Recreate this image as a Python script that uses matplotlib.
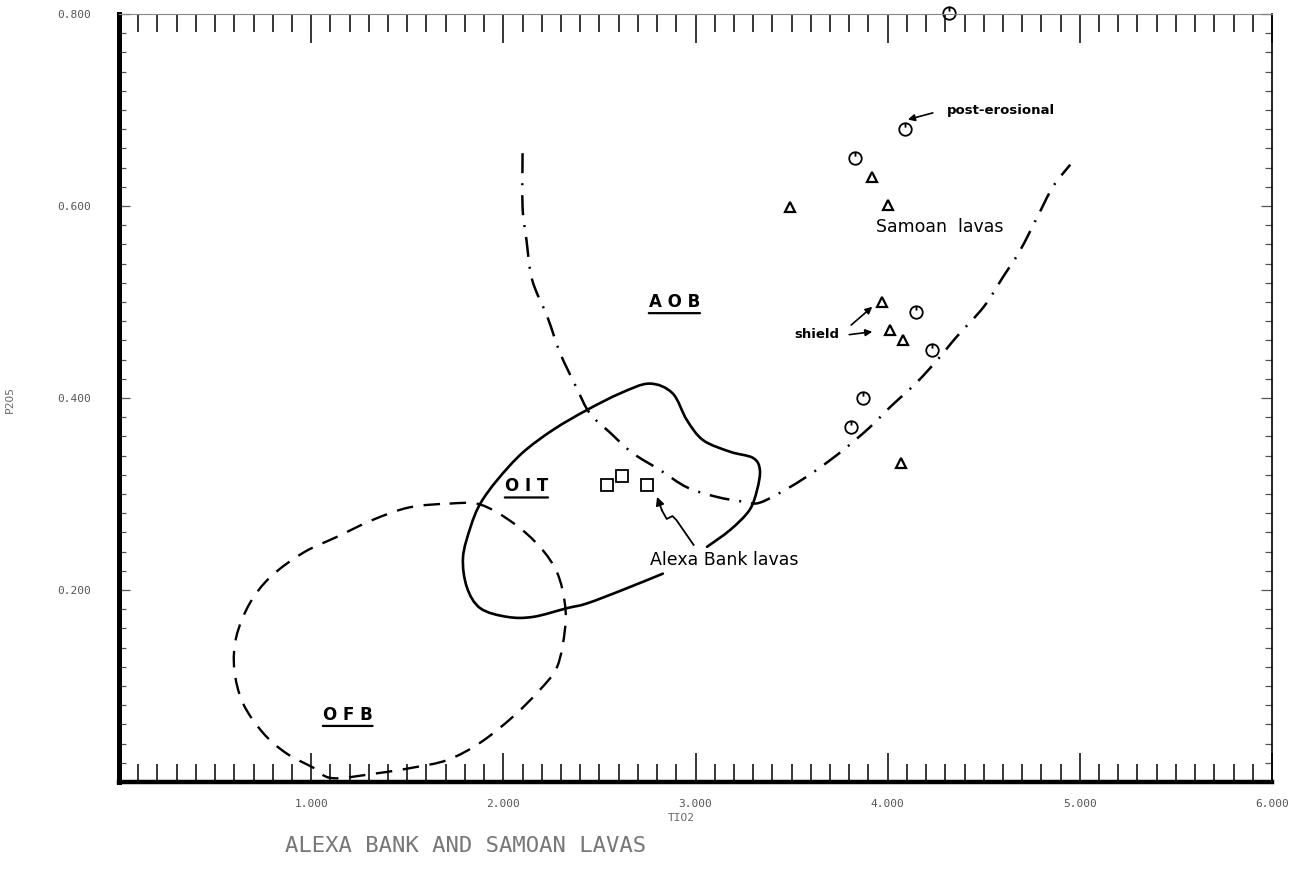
import matplotlib
matplotlib.use("Agg")
import matplotlib.pyplot as plt
import numpy as np
from matplotlib.path import Path
from matplotlib.patches import PathPatch
from matplotlib.ticker import MultipleLocator, FuncFormatter

# Samoan lavas (TiO2, P2O5)
samoa_circ_x = [4.32, 4.09, 3.83, 4.15, 4.23, 3.87, 3.81]
samoa_circ_y = [0.801, 0.680, 0.650, 0.490, 0.450, 0.400, 0.370]
samoa_tri_x = [3.92, 3.49, 4.00, 3.97, 4.01, 4.08, 4.07]
samoa_tri_y = [0.630, 0.599, 0.601, 0.500, 0.471, 0.460, 0.332]

# Alexa Bank lavas
alexa_x = [2.54, 2.62, 2.75]
alexa_y = [0.309, 0.319, 0.309]

# OIT field (solid), broken where the Alexa Bank label sits
oit_x = [3.06, 3.18, 3.28, 3.32, 3.335, 3.30, 3.18, 3.04, 2.955, 2.88, 2.76, 2.61,
         2.435, 2.26, 2.10, 1.97, 1.88, 1.83, 1.79, 1.81, 1.88, 2.02, 2.155, 2.33,
         2.435, 2.62, 2.83]
oit_y = [0.245, 0.2625, 0.283, 0.304, 0.325, 0.3375, 0.344, 0.356, 0.377, 0.405,
         0.415, 0.405, 0.3875, 0.367, 0.343, 0.315, 0.29, 0.266, 0.234, 0.203,
         0.181, 0.172, 0.172, 0.181, 0.186, 0.200, 0.217]

# OFB field (dashed, closed)
ofb_x = [1.72, 1.88, 2.05, 2.19, 2.28, 2.32, 2.32, 2.28, 2.19, 2.05, 1.88, 1.71,
         1.53, 1.34, 1.11, 1.01, 0.87, 0.75, 0.645, 0.60, 0.61, 0.68, 0.79, 0.96,
         1.13, 1.32, 1.51]
ofb_y = [0.290, 0.289, 0.270, 0.245, 0.218, 0.186, 0.158, 0.120, 0.096, 0.068,
         0.041, 0.023, 0.015, 0.009, 0.004, 0.015, 0.030, 0.051, 0.082, 0.117,
         0.151, 0.186, 0.214, 0.239, 0.255, 0.273, 0.286]

# AOB boundary (dash-dot)
aob_x = [2.10, 2.10, 2.12, 2.15, 2.23, 2.295, 2.38, 2.45, 2.555, 2.67, 2.815,
         2.955, 3.11, 3.25, 3.335, 3.49, 3.63, 3.77, 3.91, 4.01, 4.15, 4.26, 4.36,
         4.50, 4.60, 4.69, 4.78, 4.86, 4.95]
aob_y = [0.655, 0.599, 0.565, 0.523, 0.484, 0.447, 0.411, 0.384, 0.364, 0.343,
         0.325, 0.307, 0.297, 0.292, 0.291, 0.307, 0.325, 0.346, 0.370, 0.390,
         0.416, 0.440, 0.464, 0.495, 0.526, 0.554, 0.589, 0.620, 0.643]

# wiggly pointer from the Alexa Bank label to the samples
wiggle_x = [2.99, 2.90, 2.88, 2.85, 2.825]
wiggle_y = [0.247, 0.273, 0.277, 0.274, 0.283]
wiggle_tip = (2.80, 0.297)


def smooth_path(xs, ys, closed=False):
    # Catmull-Rom through the traced points, written as cubic Bezier segments
    p = np.column_stack([xs, ys]).astype(float)
    n = len(p)
    if closed:
        get = lambda i: p[i % n]
        segs = n
    else:
        get = lambda i: p[min(max(i, 0), n - 1)]
        segs = n - 1
    verts = [p[0]]
    codes = [Path.MOVETO]
    for i in range(segs):
        p0, p1, p2, p3 = get(i - 1), get(i), get(i + 1), get(i + 2)
        verts += [p1 + (p2 - p0) / 6, p2 - (p3 - p1) / 6, p2]
        codes += [Path.CURVE4] * 3
    return Path(verts, codes)


fig = plt.figure(figsize=(13.01, 8.75), dpi=100)
ax = fig.add_axes([0.0915, 0.1063, 0.8862, 0.8777])
ax.set_xlim(0, 6)
ax.set_ylim(0, 0.8)

# circle with a tick on top, as in the plotter symbols
circ_marker = Path.make_compound_path(
    Path.unit_circle(), Path([[0, 1.0], [0, 0.3]], [Path.MOVETO, Path.LINETO]))

ax.plot(samoa_circ_x, samoa_circ_y, linestyle='none', marker=circ_marker, ms=9,
        mfc='none', mec='black', mew=1.3, clip_on=False)
ax.plot(samoa_tri_x, samoa_tri_y, linestyle='none', marker='^', ms=7,
        mfc='none', mec='black', mew=1.6)
ax.plot(alexa_x, alexa_y, linestyle='none', marker='s', ms=8,
        mfc='none', mec='black', mew=1.3)

ax.add_patch(PathPatch(smooth_path(oit_x, oit_y), fill=False, ec='black',
                       lw=1.9, capstyle='round'))
ax.add_patch(PathPatch(smooth_path(ofb_x, ofb_y, closed=True), fill=False,
                       ec='black', lw=1.7, linestyle=(0, (7, 4.5)), clip_on=False))
ax.add_patch(PathPatch(smooth_path(aob_x, aob_y), fill=False, ec='black',
                       lw=1.8, linestyle=(0, (8, 4, 0.8, 4))))

ax.plot(wiggle_x, wiggle_y, color='black', lw=1.3)
ax.annotate('', xy=wiggle_tip, xytext=(wiggle_x[-1], wiggle_y[-1]),
            arrowprops=dict(arrowstyle='-|>', color='black', lw=1.3,
                            mutation_scale=12, shrinkA=0, shrinkB=0))


def field_label(x, y, s):
    t = ax.text(x, y, s, ha='center', va='center', fontsize=12,
                fontweight='bold', family='DejaVu Sans')
    ax.annotate('', xy=(0, -0.12), xycoords=t, xytext=(1, -0.12), textcoords=t,
                arrowprops=dict(arrowstyle='-', lw=1.6, color='black',
                                shrinkA=0, shrinkB=0))


field_label(2.89, 0.500, 'A O B')
field_label(2.12, 0.308, 'O I T')
field_label(1.19, 0.070, 'O F B')

ax.text(4.27, 0.578, 'Samoan  lavas', ha='center', va='center', fontsize=12.5)
ax.text(3.15, 0.231, 'Alexa Bank lavas', ha='center', va='center', fontsize=12.5)
ax.text(4.59, 0.699, 'post-erosional', ha='center', va='center', fontsize=9.5,
        fontweight='bold')
ax.text(3.63, 0.466, 'shield', ha='center', va='center', fontsize=9.5,
        fontweight='bold')

arrow_kw = dict(arrowstyle='-|>', color='black', lw=1.2, mutation_scale=10,
                shrinkA=0, shrinkB=0)
ax.annotate('', xy=(4.105, 0.690), xytext=(4.235, 0.697), arrowprops=arrow_kw)
ax.annotate('', xy=(3.92, 0.495), xytext=(3.81, 0.476), arrowprops=arrow_kw)
ax.annotate('', xy=(3.92, 0.469), xytext=(3.80, 0.466), arrowprops=arrow_kw)

# axes frame
ax.spines['left'].set_linewidth(3.6)
ax.spines['bottom'].set_linewidth(3.2)
ax.spines['top'].set_linewidth(0.8)
ax.spines['top'].set_color('#888888')
ax.spines['right'].set_linewidth(1.2)

ax.xaxis.set_major_locator(MultipleLocator(1))
ax.xaxis.set_minor_locator(MultipleLocator(0.1))
ax.yaxis.set_major_locator(MultipleLocator(0.2))
ax.yaxis.set_minor_locator(MultipleLocator(0.02))

fmt = FuncFormatter(lambda v, p: '' if abs(v) < 1e-9 else '%.3f' % v)
ax.xaxis.set_major_formatter(fmt)
ax.yaxis.set_major_formatter(fmt)

ax.tick_params(axis='x', which='both', direction='in', top=True, bottom=True,
               color='black', width=1.1)
ax.tick_params(axis='x', which='major', length=21, pad=12)
ax.tick_params(axis='x', which='minor', length=13)
ax.tick_params(axis='y', which='both', direction='in', left=True, right=True,
               color='#555555', width=0.9)
ax.tick_params(axis='y', which='major', length=8, pad=20)
ax.tick_params(axis='y', which='minor', length=5)

for lbl in ax.get_xticklabels() + ax.get_yticklabels():
    lbl.set_family('DejaVu Sans Mono')
    lbl.set_fontsize(8)
    lbl.set_color('#555555')

fig.text(681 / 1301, 1 - 818 / 875, 'TIO2', ha='center', va='center',
         family='DejaVu Sans Mono', fontsize=8, color='#666666')
fig.text(10 / 1301, 1 - 400 / 875, 'P2O5', ha='center', va='center', rotation=90,
         family='DejaVu Sans Mono', fontsize=8, color='#666666')
fig.text(285 / 1301, 1 - 846 / 875, 'ALEXA BANK AND SAMOAN LAVAS', ha='left',
         va='center', family='DejaVu Sans Mono', fontsize=16, color='#777777')

fig.savefig('out.png', dpi=100)
